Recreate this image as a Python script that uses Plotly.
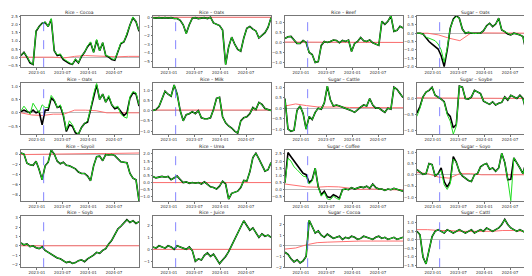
import pandas as pd
import plotly.graph_objects as go

# ---------------- data ----------------
start_date = "2022-09-10"
end_date = "2024-12-25"
event_date = "2023-02-18"
n_main = 40
n_red = 12

titles = ["Rice – Cocoa", "Rice – Oats", "Rice – Beef", "Sugar – Oats",
          "Rice – Oats", "Rice – Milk", "Sugar – Cattle", "Sugar – Soybe",
          "Rice – Soyoil", "Rice – Urea", "Sugar – Coffee", "Sugar – Soyo",
          "Rice – Soyb", "Rice – Juice", "Sugar – Cocoa", "Sugar – Cattl"]

g1 = [0.1, 0.3, 0.05, -0.3, -0.45, 1.65, 1.9, 2.1, 2.2, 1.9, 2.4, 0.4, 0.15, 0.2, -0.1, -0.2, -0.35, -0.45, -0.1, -0.35,
      0.1, 0.3, 0.7, 0.95, 0.3, 1.1, 0.4, 0.9, 0.1, 0.05, -0.1, -0.15, 0.35, 0.9, 0.95, 1.45, 2.0, 2.5, 2.2, 1.65]
b1 = [0.1, 0.3, 0.0, -0.35, -0.45, 1.6, 1.9, 2.1, 2.15, 1.9, 2.35, 0.4, 0.1, 0.15, -0.15, -0.3, -0.4, -0.45, -0.15, -0.35,
      0.05, 0.3, 0.65, 0.9, 0.3, 1.05, 0.4, 0.9, 0.1, 0.0, -0.15, -0.2, 0.3, 0.85, 0.95, 1.4, 2.0, 2.45, 2.2, 1.6]
r1 = [0.0, 0.0, 0.02, 0.0, -0.05, 0.05, 0.1, 0.08, 0.05, 0.02, 0.05, 0.05]

g2 = [0.0, -0.05, 0.0, -0.05, 0.0, -0.05, 0.0, -0.1, -0.1, -0.3, -0.8, -1.8, -0.8, -0.05, 0.0, -0.1, -0.05, 0.0, -0.1, 0.05,
      -0.6, -0.75, -0.9, -1.4, -5.3, -3.3, -2.2, -3.0, -3.6, -3.8, -2.3, -1.2, -1.0, -1.3, -1.5, -2.3, -2.0, -1.7, -1.1, 0.0]
b2 = g2
r2 = [0.05, 0.05, 0.05, 0.05, 0.05, 0.05, 0.05, 0.05, 0.05, 0.05, 0.05, 0.05]

g3 = [0.2, 0.28, 0.3, 0.1, -0.05, -0.05, 0.1, 0.0, -0.5, -0.6, -1.0, -0.95, -0.15, 0.05, 0.0, 0.05, 0.12, 0.1, -0.02, 0.1,
      0.05, 0.12, -0.45, -0.05, 0.05, 0.25, 0.08, 0.05, 0.12, -0.02, -0.1, -0.15, 1.05, 0.9, 1.05, 1.32, 0.55, 0.6, 0.8, 0.72]
b3 = g3
r3 = [0.02, 0.02, 0.01, 0.0, 0.0, 0.0, 0.0, 0.0, 0.0, 0.0, 0.0, 0.0]

g4 = [0.0, 0.0, -0.05, -0.25, -0.3, -0.4, -0.45, -0.65, -1.0, -1.75, -0.9, 0.3, 0.8, 1.0, 0.9, 0.25, 0.0, 0.05, 0.0, -0.02,
      0.0, 0.0, 0.15, 0.45, 0.6, 0.4, 0.55, 0.9, 0.2, 0.1, -0.05, -0.1, 0.0, -0.05, -0.1, -0.2, -1.0, -0.95, -0.75, -0.35]
b4 = [0.0, 0.0, -0.05, -0.3, -0.5, -0.65, -0.8, -0.95, -1.35, -2.0, -1.0, 0.3, 0.85, 1.05, 0.9, 0.25, 0.0, 0.05, 0.0, -0.02,
      0.0, 0.0, 0.15, 0.45, 0.6, 0.4, 0.55, 0.9, 0.2, 0.1, -0.05, -0.1, 0.0, -0.05, -0.1, -0.2, -1.05, -0.95, -0.75, -0.35]
r4 = [0.0, 0.0, -0.1, -0.3, -0.45, 0.0, 0.02, 0.02, 0.02, 0.02, 0.0, 0.0]

g5 = [0.07, 0.25, 0.1, -0.05, 0.36, 0.2, 0.0, 0.3, 0.2, 0.2, 0.65, 0.5, 0.2, 0.3, -0.05, -0.65, -0.3, -0.45, -0.7, -0.8,
      -0.55, -0.4, -0.3, 0.15, 0.7, 1.1, 0.5, 0.7, 0.4, 0.65, 0.3, 0.2, 0.25, -0.05, -0.15, -0.2, 0.6, 0.8, 0.75, 0.3]
b5 = [0.05, 0.1, 0.05, 0.0, 0.1, 0.0, 0.05, -0.45, 0.1, 0.1, 0.55, 0.45, 0.2, 0.25, -0.1, -0.7, -0.45, -0.5, -0.75, -0.8,
      -0.55, -0.4, -0.35, 0.15, 0.65, 1.05, 0.5, 0.7, 0.4, 0.6, 0.3, 0.15, 0.2, 0.05, -0.1, 0.0, 0.55, 0.75, 0.7, 0.25]
r5 = [0.0, -0.08, -0.1, -0.05, -0.05, 0.1, 0.1, 0.08, 0.0, 0.0, 0.0, 0.0]

g6 = [0.0, 0.05, 0.2, 0.55, 0.95, 0.8, 0.7, 1.25, 0.8, 0.0, -0.5, -0.2, -0.15, -0.05, -0.15, 0.0, -0.35, -0.4, -0.4, -0.35,
      0.05, 0.6, 0.65, -0.3, -0.6, -0.75, -0.85, -1.0, -1.1, -0.5, -0.35, -0.3, -0.15, 0.15, 0.05, 0.4, 0.3, 0.1, 0.05, 0.0]
b6 = g6
r6 = [0.03, 0.03, 0.05, 0.04, 0.03, 0.03, 0.03, 0.04, 0.05, 0.04, 0.03, 0.03]

g7 = [0.45, -1.0, -1.1, -1.05, -0.1, 0.1, -0.25, -1.0, -0.4, -0.55, -0.2, 0.0, -0.05, 0.25, 1.05, 0.4, 0.1, 0.15, 0.1, 0.05,
      0.0, -0.05, -0.12, -0.2, -0.05, 0.05, 0.15, 0.1, 0.45, 0.15, 0.0, 0.0, -0.1, -0.2, 0.0, -0.05, 1.0, 0.9, 0.7, 0.5]
b7 = g7
r7 = [0.1, 0.2, 0.12, 0.06, 0.05, 0.06, 0.03, 0.02, 0.02, 0.02, 0.02, 0.02]

g8 = [-0.55, -0.3, 0.05, 0.2, 0.25, 0.35, 0.1, 0.05, -0.02, -0.1, -0.5, -0.7, -1.1, -0.85, 0.38, 0.35, 0.0, -0.02, 0.05, 0.25,
      0.2, 0.15, -0.08, -0.12, -0.18, -0.1, -0.2, -0.15, -0.12, 0.05, -0.05, 0.1, 0.05, 0.0, 0.1, 0.0, -0.35, -0.05, -0.15, -0.2]
b8 = [-0.45, -0.25, 0.05, 0.2, 0.25, 0.35, 0.1, 0.05, -0.02, -0.1, -0.45, -0.55, -0.9, -0.8, 0.38, 0.35, 0.0, -0.02, 0.05, 0.25,
      0.2, 0.15, -0.08, -0.12, -0.18, -0.1, -0.2, -0.15, -0.12, 0.05, -0.05, 0.1, 0.05, 0.0, 0.1, 0.0, -0.35, -0.05, -0.15, -0.2]
r8 = [0.02, 0.02, 0.02, 0.02, 0.01, 0.01, 0.0, 0.0, 0.01, 0.0, 0.0, 0.0]

g9 = [0.2, 0.0, -1.8, -2.1, -2.2, -1.4, -3.0, -5.0, -2.3, -1.6, 0.8, 0.0, -1.4, -1.9, -1.6, -2.2, -2.3, -2.6, -2.9, -3.5,
      -3.8, -3.8, -4.3, -5.2, -2.3, -0.5, -0.4, -1.3, -0.1, -0.2, -0.1, -0.3, -1.0, -1.5, -1.6, -1.7, -3.8, -4.7, -5.0, -9.2]
b9 = g9
r9 = [-0.1, -0.05, 0.0, 0.0, 0.05, 0.05, 0.05, 0.1, 0.1, 0.15, 0.15, 0.2]

g10 = [0.43, 0.33, 0.38, 0.43, 0.37, 0.43, 0.2, 0.3, 0.45, 0.22, 0.0, 0.05, -0.05, 0.0, -0.05, 0.0, -0.1, 0.05, -0.15, -0.3,
       -0.35, -0.45, -0.25, 0.1, -0.1, -1.15, -0.75, -0.65, -0.6, -0.35, 0.15, 0.1, 0.75, 1.75, 2.05, 1.65, 1.2, 0.8, 0.9, 1.4]
b10 = g10
r10 = [0.0, 0.0, 0.0, 0.0, 0.0, 0.0, 0.0, 0.0, 0.0, 0.0, 0.0, 0.0]

g11 = [0.45, 2.2, 2.0, 1.6, 1.4, 1.2, 0.95, 0.9, 0.4, 0.6, 1.5, 0.2, -0.45, -0.2, -0.65, -0.7, -0.45, -0.6, -0.7, 0.0,
       0.05, 0.0, 0.15, 0.05, 0.15, 0.2, 0.15, 0.25, 0.1, 0.4, 0.15, 0.05, 0.05, -0.05, 0.05, 0.0, 0.1, 0.05, 0.0, -0.1]
b11 = [0.5, 2.6, 2.3, 2.0, 1.7, 1.45, 1.15, 1.05, 0.5, 0.7, 1.5, 0.2, -0.35, -0.1, -0.5, -0.55, -0.35, -0.45, -0.6, 0.0,
       0.05, 0.0, 0.15, 0.05, 0.15, 0.2, 0.15, 0.25, 0.1, 0.4, 0.15, 0.05, 0.05, -0.05, 0.05, 0.0, 0.1, 0.05, 0.0, -0.1]
r11 = [0.4, 0.3, 0.2, 0.18, 0.22, 0.2, 0.1, 0.02, 0.05, 0.05, 0.0, -0.02]

g12 = [0.23, 0.12, 0.02, 0.05, 0.5, 0.45, -0.05, 0.05, 0.2, -0.45, -0.65, -0.4, 0.7, 0.55, 0.15, -0.05, -0.15, -0.25, -0.3, 0.0,
       0.05, 0.35, 0.45, 0.5, 0.25, 0.3, 0.15, 0.3, 0.95, 0.55, -0.22, -1.15, 0.75, 0.55, 0.3, 0.05, 0.55, 0.4, 0.55, 0.15]
b12 = [0.23, 0.12, 0.02, 0.05, 0.5, 0.45, -0.05, 0.05, 0.3, -0.3, -0.55, -0.3, 0.8, 0.55, 0.15, -0.05, -0.15, -0.25, -0.3, 0.0,
       0.05, 0.35, 0.45, 0.5, 0.25, 0.3, 0.15, 0.3, 0.95, 0.55, -0.22, -0.2, 0.75, 0.55, 0.3, 0.05, 0.55, 0.4, 0.55, 0.15]
r12 = [0.1, 0.05, -0.1, -0.15, 0.05, 0.05, 0.0, 0.0, 0.0, 0.0, 0.0, 0.0]

g13 = [0.3, 0.1, 0.2, -0.1, 0.0, -0.2, -0.3, -0.1, -0.5, -0.7, -0.9, -1.1, -1.3, -1.4, -1.6, -1.8, -1.7, -1.9, -1.8, -1.6,
       -1.5, -1.7, -1.4, -1.2, -1.0, -0.7, -0.8, -0.5, -0.3, 0.2, 0.6, 1.2, 1.8, 2.1, 2.4, 2.8, 2.5, 2.7, 2.4, 2.6]
b13 = g13
r13 = [0.0, 0.0, 0.0, 0.0, 0.0, 0.0, 0.0, 0.0, 0.0, 0.0, 0.0, 0.0]

g14 = [0.2, 0.1, 0.3, 0.2, 0.1, 0.3, 0.2, 0.0, 0.3, 0.2, 0.1, 0.0, 0.2, -0.1, -1.0, -0.8, -0.9, -0.5, -0.3, -0.6,
       -0.4, -0.8, -1.2, -0.9, -0.6, -0.2, 0.3, 0.8, 1.3, 1.9, 2.4, 2.0, 1.6, 1.8, 1.4, 1.0, 1.3, 1.1, 1.2, 1.0]
b14 = g14
r14 = [0.0, 0.0, 0.0, 0.0, 0.0, 0.0, 0.0, 0.0, 0.0, 0.0, 0.0, 0.0]

g15 = [-0.6, -0.8, -1.2, -1.5, -1.3, -1.6, -1.4, -1.0, 2.4, 1.8, 1.2, 1.4, 1.0, 0.8, 1.1, 0.9, 0.7, 0.8, 0.9, 0.6,
       0.8, 0.7, 0.9, 0.8, 0.6, 0.7, 0.9, 0.8, 0.7, 0.6, 0.8, 0.9, 0.7, 0.8, 0.6, 0.7, 0.8, 0.6, 0.7, 0.8]
b15 = g15
r15 = [-0.3, -0.2, 0.1, 0.3, 0.35, 0.4, 0.4, 0.45, 0.45, 0.45, 0.45, 0.45]

g16 = [0.5, 0.3, -1.0, -1.4, -0.6, 0.2, 0.5, 0.6, 0.5, 0.4, 0.6, 0.5, 0.4, 0.5, 0.6, 0.5, 0.4, 0.5, 0.6, 0.4,
       0.5, 0.6, 0.5, 0.7, 0.6, 0.5, 0.6, 0.7, 0.9, 1.2, 0.9, 0.7, 0.6, 0.5, 0.6, 0.5, 0.4, 0.5, 0.4, 0.3]
b16 = g16
r16 = [0.6, 0.6, 0.55, 0.55, 0.5, 0.5, 0.5, 0.5, 0.55, 0.55, 0.5, 0.5]

greens = [g1, g2, g3, g4, g5, g6, g7, g8, g9, g10, g11, g12, g13, g14, g15, g16]
blacks = [b1, b2, b3, b4, b5, b6, b7, b8, b9, b10, b11, b12, b13, b14, b15, b16]
reds = [r1, r2, r3, r4, r5, r6, r7, r8, r9, r10, r11, r12, r13, r14, r15, r16]

y_ranges = [[-0.62, 2.56], [-5.6, 0.2], [-1.23, 1.32], [-2.04, 1.04],
            [-0.8, 1.12], [-1.15, 1.35], [-1.24, 1.2], [-1.1, 0.48],
            [-9.2, 0.8], [-1.3, 2.28], [-0.8, 2.78], [-1.17, 1.1],
            [-2.3, 3.2], [-1.5, 2.8], [-2.0, 2.8], [-1.6, 1.4]]
y_dticks = [0.5, 1, 0.5, 0.5, 0.5, 0.5, 0.5, 0.5, 2, 0.5, 0.5, 0.5, 1, 1, 1, 0.5]

# ---------------- figure ----------------
dates_main = pd.date_range(start_date, end_date, periods=n_main)
dates_red = pd.date_range(start_date, end_date, periods=n_red)

W, H = 532, 276
row_tops = [6, 74, 142, 209]
row_bots = [58, 126, 194, 261]
fig = go.Figure()
annotations = []
for k in range(16):
    r, c = divmod(k, 4)
    ax = "" if k == 0 else str(k + 1)
    x0 = (9 + 133 * c) / W
    x1 = (128 + 133 * c) / W
    y0 = 1 - row_bots[r] / H
    y1 = 1 - row_tops[r] / H
    xa = "x" + ax
    ya = "y" + ax
    fig.add_trace(go.Scatter(x=dates_red, y=reds[k], mode="lines", line=dict(color="#ff7070", width=1),
                             xaxis=xa, yaxis=ya, showlegend=False, hoverinfo="skip"))
    fig.add_trace(go.Scatter(x=dates_main, y=blacks[k], mode="lines", line=dict(color="black", width=1.6),
                             xaxis=xa, yaxis=ya, showlegend=False, hoverinfo="skip"))
    fig.add_trace(go.Scatter(x=dates_main, y=greens[k], mode="lines", line=dict(color="#22dd22", width=1),
                             xaxis=xa, yaxis=ya, showlegend=False, hoverinfo="skip"))
    fig.add_trace(go.Scatter(x=[event_date, event_date], y=y_ranges[k], mode="lines",
                             line=dict(color="#6666ff", width=0.8, dash="dash"),
                             xaxis=xa, yaxis=ya, showlegend=False, hoverinfo="skip"))
    dt = y_dticks[k]
    fig.layout["xaxis" + ax] = dict(domain=[x0, x1], anchor=ya, range=[start_date, end_date], type="date",
                                    tick0="2023-01-01", dtick="M6", tickformat="%Y-%m",
                                    showgrid=False, zeroline=False, showline=True, mirror=True,
                                    linecolor="#777777", linewidth=0.8, ticks="outside", ticklen=1.5,
                                    tickcolor="#777777", tickfont=dict(size=4, color="#333333", family="DejaVu Sans"))
    fig.layout["yaxis" + ax] = dict(domain=[y0, y1], anchor=xa, range=y_ranges[k], dtick=dt, tick0=0,
                                    tickformat=".1f" if dt < 1 else "d",
                                    showgrid=False, zeroline=True, zerolinecolor="#bbbbbb", zerolinewidth=0.5,
                                    showline=True, mirror=True,
                                    linecolor="#777777", linewidth=0.8, ticks="outside", ticklen=1.5,
                                    tickcolor="#777777", tickfont=dict(size=4, color="#333333", family="DejaVu Sans"))
    annotations.append(dict(text=titles[k], x=(x0 + x1) / 2, y=y1, xref="paper", yref="paper",
                            xanchor="center", yanchor="bottom", showarrow=False, yshift=-1.5,
                            font=dict(size=4.5, color="#222222", family="DejaVu Sans")))

fig.update_layout(width=W, height=H, autosize=False, margin=dict(l=0, r=0, t=0, b=0),
                  paper_bgcolor="white", plot_bgcolor="white", annotations=annotations)
fig.write_html("out.html")
